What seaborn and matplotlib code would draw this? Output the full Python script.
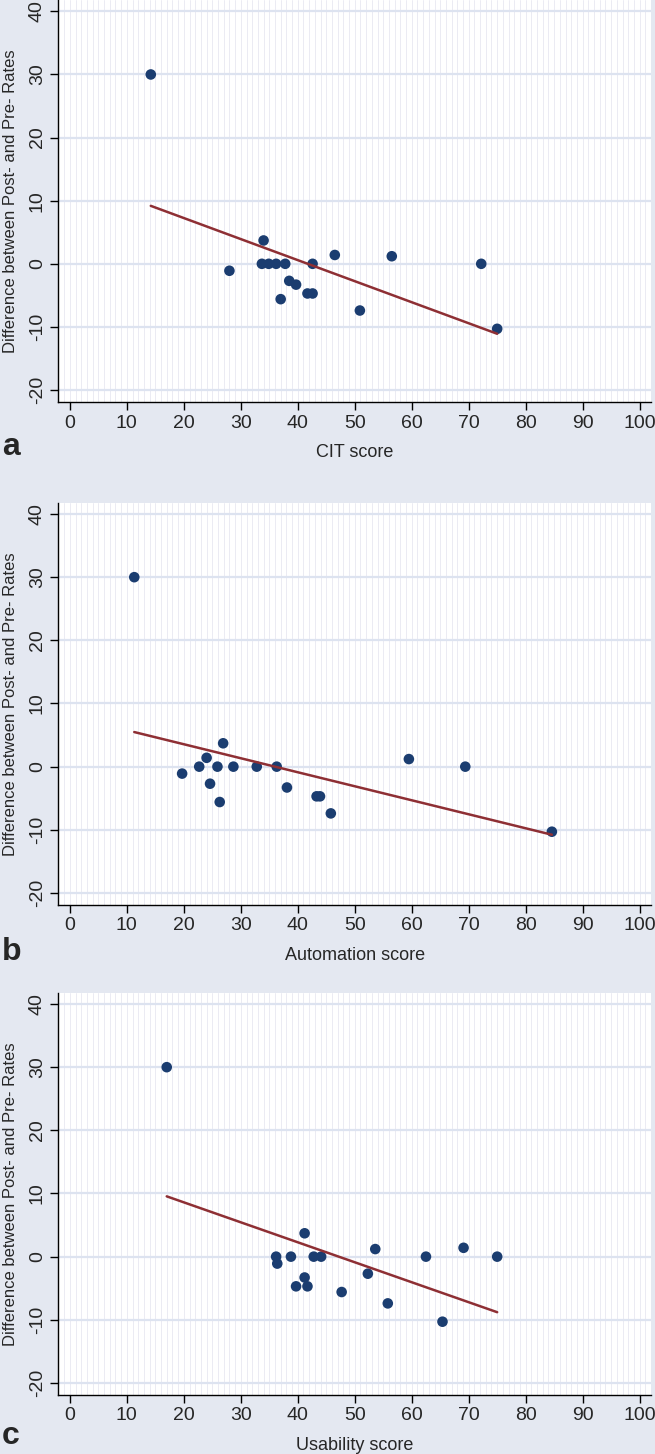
import numpy as np
import pandas as pd
import matplotlib
matplotlib.use('Agg')
import matplotlib.pyplot as plt
from matplotlib.ticker import MultipleLocator
import seaborn as sns

sns.set_style('white')
plt.rcParams['font.family'] = ['Liberation Sans', 'DejaVu Sans']
plt.rcParams['axes.unicode_minus'] = False

# difference between post- and pre- rates, one value per subject
diff = [30, -1.1, 3.7, -2.7, -3.3, -5.6, -4.7, -4.7, 1.4, -7.4, 1.2, -10.3,
        0, 0, 0, 0, 0, 0]
# scores for the same subjects
cit_score = [14.2, 28.0, 34.0, 38.5, 39.7, 37.0, 41.7, 42.6, 46.5, 50.9, 56.5, 75.0,
             33.7, 34.9, 36.2, 37.8, 42.6, 72.2]
automation_score = [11.3, 19.7, 26.9, 24.6, 38.1, 26.3, 43.3, 43.9, 24.0, 45.8, 59.5, 84.6,
                    22.7, 25.9, 28.7, 32.8, 36.3, 69.4]
usability_score = [17.0, 36.4, 41.2, 52.3, 41.2, 47.7, 39.7, 41.7, 69.1, 55.8, 53.6, 65.4,
                   36.2, 38.8, 42.8, 44.1, 62.5, 75.0]

df = pd.DataFrame({'diff': diff, 'cit': cit_score,
                   'automation': automation_score, 'usability': usability_score})

panels = [('cit', 'CIT score', 'a'),
          ('automation', 'Automation score', 'b'),
          ('usability', 'Usability score', 'c')]

# axes boxes in figure fractions [left, bottom, width, height]
boxes = [[0.0893, 0.7235, 0.9046, 0.2765],
         [0.0893, 0.3776, 0.9046, 0.2767],
         [0.0893, 0.0406, 0.9046, 0.2767]]
# baseline of the panel letters
letter_y = [1 - 455/1454, 1 - 960/1454, 1 - 1444/1454]

bg = '#e4e8f1'
navy = '#1b3d70'
maroon = '#8e2f34'

fig = plt.figure(figsize=(6.55, 14.54), dpi=100)
fig.patch.set_facecolor(bg)

for (col, xlab, letter), box, ly in zip(panels, boxes, letter_y):
    ax = fig.add_axes(box)
    ax.set_facecolor('white')
    sns.regplot(x=col, y='diff', data=df, ax=ax, ci=None,
                scatter_kws=dict(s=58, color=navy, edgecolor='none', alpha=1),
                line_kws=dict(color=maroon, lw=1.8))
    ax.set_xlim(-2, 102)
    ax.set_ylim(-21.9, 41.8)
    ax.xaxis.set_major_locator(MultipleLocator(10))
    ax.xaxis.set_minor_locator(MultipleLocator(1))
    ax.yaxis.set_major_locator(MultipleLocator(10))
    ax.set_axisbelow(True)
    ax.grid(axis='x', which='both', color='#ebebf3', lw=0.7)
    ax.grid(axis='y', which='major', color='#dde3f0', lw=1.6)
    ax.tick_params(axis='x', which='minor', length=0)
    ax.tick_params(axis='both', which='major', direction='out', length=6, width=1,
                   color='black', labelsize=14, pad=3, bottom=True, left=True)
    ax.tick_params(axis='y', labelrotation=90)
    for lbl in ax.get_yticklabels():
        lbl.set_va('center')
    for s in ['top', 'right']:
        ax.spines[s].set_visible(False)
    for s in ['left', 'bottom']:
        ax.spines[s].set_color('black')
        ax.spines[s].set_linewidth(1.0)
    ax.set_xlabel(xlab, fontsize=13, labelpad=9)
    ax.set_ylabel('Difference between Post- and Pre- Rates', fontsize=12, labelpad=8)
    fig.text(0.003, ly, letter, fontsize=23, fontweight='bold', ha='left', va='baseline')

fig.savefig('out.png', dpi=100, facecolor=bg)
